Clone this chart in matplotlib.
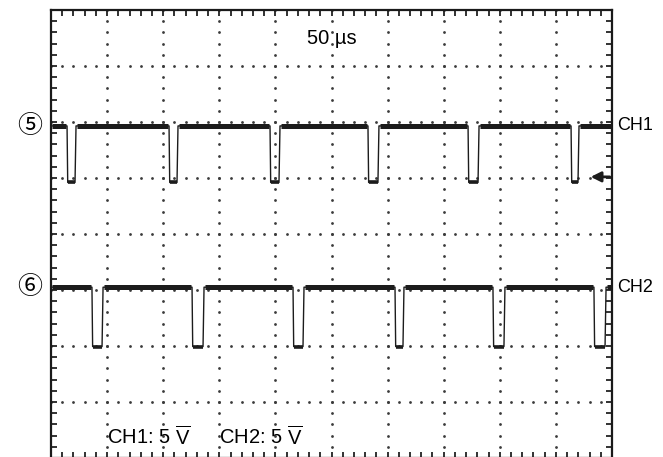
import matplotlib.pyplot as plt
import numpy as np
from matplotlib.ticker import MultipleLocator, NullFormatter

plt.rcParams['font.family'] = ['Liberation Sans', 'DejaVu Sans']
plt.rcParams['mathtext.fontset'] = 'custom'
plt.rcParams['mathtext.rm'] = 'Liberation Sans'

# screen: 10 div x 50 us, 8 div vertical (values in div)
t_span_us = 500
n_ydiv = 8

# pulse edges (us)
ch1_fall_us = [14.3, 105.2, 195.2, 282.5, 371.7, 463.5]
ch1_rise_us = [21.4, 112.3, 203.2, 291.4, 380.6, 469.7]
ch2_fall_us = [36.5, 125.7, 215.7, 306.6, 393.9, 483.9]
ch2_rise_us = [45.5, 135.5, 224.6, 313.7, 403.7, 493.8]

# levels (div from bottom of screen)
ch1_high, ch1_low = 5.93, 4.92
ch2_high, ch2_low = 3.05, 1.99
trig_level = 5.02

trace_col = "#1c1c1c"


def build_trace(falls, rises, hi, lo):
    t = [0]
    v = [hi]
    for f, r in zip(falls, rises):
        t += [f, f + 0.6, r, r + 0.9]
        v += [hi, lo, lo, hi]
    t.append(t_span_us)
    v.append(hi)
    return np.array(t), np.array(v)


fig = plt.figure(figsize=(6.63, 4.57), dpi=100)
ax = fig.add_axes([51 / 663, -1 / 457, 561 / 663, 448 / 457])
ax.set_xlim(0, t_span_us)
ax.set_ylim(0, n_ydiv)

# dotted graticule
dot_x = np.arange(0, t_span_us + 0.1, 10)
dot_y = np.arange(0, n_ydiv + 0.01, 0.2)
for yy in range(1, n_ydiv):
    ax.plot(dot_x, np.full_like(dot_x, yy, dtype=float), ls='none', marker='o',
            ms=2.0, mew=0, color="#3a3a3a", zorder=1)
for xx in range(50, t_span_us, 50):
    ax.plot(np.full_like(dot_y, xx), dot_y, ls='none', marker='o',
            ms=2.0, mew=0, color="#3a3a3a", zorder=1)

# border ticks
ax.xaxis.set_major_locator(MultipleLocator(50))
ax.xaxis.set_minor_locator(MultipleLocator(10))
ax.yaxis.set_major_locator(MultipleLocator(1))
ax.yaxis.set_minor_locator(MultipleLocator(0.2))
ax.tick_params(which='both', direction='in', top=True, right=True,
               length=4.5, width=1.3, color="#222222",
               labelbottom=False, labelleft=False)
ax.xaxis.set_major_formatter(NullFormatter())
ax.yaxis.set_major_formatter(NullFormatter())
for s in ax.spines.values():
    s.set_linewidth(1.6)
    s.set_color("#1a1a1a")

# traces
for falls, rises, hi, lo in [(ch1_fall_us, ch1_rise_us, ch1_high, ch1_low),
                             (ch2_fall_us, ch2_rise_us, ch2_high, ch2_low)]:
    t, v = build_trace(falls, rises, hi, lo)
    ax.plot(t, v, color=trace_col, lw=1.0, zorder=3)
    # thick noisy-looking baseline and bottom segments
    starts = [0] + [r + 0.9 for r in rises]
    ends = list(falls) + [t_span_us]
    for a, b in zip(starts, ends):
        ax.plot([a + 1, b - 1], [hi, hi], color=trace_col, lw=3.6,
                solid_capstyle='butt', zorder=3)
    for f, r in zip(falls, rises):
        ax.plot([f + 0.6, r], [lo, lo], color=trace_col, lw=2.6,
                solid_capstyle='butt', zorder=3)

# labels
circ_font = ['Noto Sans CJK JP', 'DejaVu Sans']
ax.text(-19, ch1_high, "\u2464", fontsize=18, ha='center', va='center',
        family=circ_font, clip_on=False)
ax.text(-19, ch2_high, "\u2465", fontsize=18, ha='center', va='center',
        family=circ_font, clip_on=False)
ax.text(505, ch1_high, "CH1", fontsize=13, ha='left', va='center', clip_on=False)
ax.text(505, ch2_high, "CH2", fontsize=13, ha='left', va='center', clip_on=False)
ax.text(250, 7.5, "50 \u00b5s", fontsize=14.5, ha='center', va='center')
ax.text(50, 0.23, r"CH1: 5 $\overline{\mathrm{V}}$", fontsize=14.5, ha='left', va='baseline')
ax.text(150, 0.23, r"CH2: 5 $\overline{\mathrm{V}}$", fontsize=14.5, ha='left', va='baseline')

# trigger level arrow
ax.annotate("", xy=(481, trig_level), xytext=(498, trig_level),
            arrowprops=dict(arrowstyle='-|>', color=trace_col, lw=2.0,
                            mutation_scale=15, shrinkA=0, shrinkB=0))

fig.savefig("out.png", dpi=100)
